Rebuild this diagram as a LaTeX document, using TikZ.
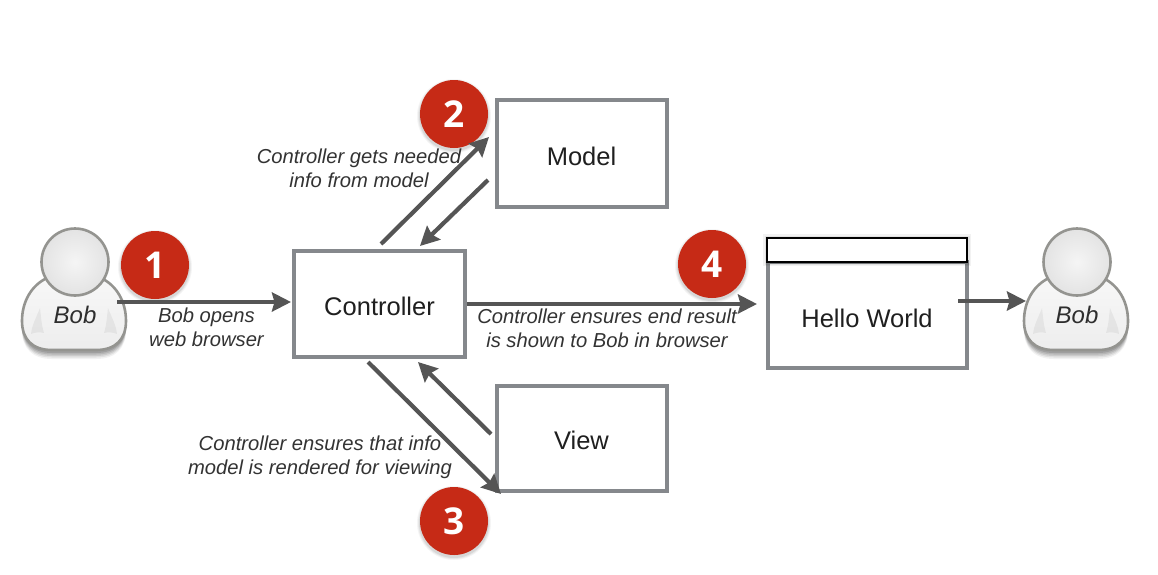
\documentclass[tikz,border=0pt]{standalone}
\usepackage{fontspec}
\setmainfont{Liberation Sans}
\newfontfamily\badgefont{Open Sans}
\usetikzlibrary{arrows.meta,calc}
\definecolor{boxgray}{HTML}{85888C}
\definecolor{arrowgray}{HTML}{555555}
\definecolor{badgered}{HTML}{C62A16}
\definecolor{personline}{HTML}{949490}
\newcommand{\bodyshape}{(-27,-37) .. controls (-42,-30) and (-52,-14) .. (-52,6)
      .. controls (-52,24) and (-42,35) .. (-22,35) -- (22,35)
      .. controls (42,35) and (52,24) .. (52,6)
      .. controls (52,-14) and (42,-30) .. (27,-37) -- cycle}
\tikzset{
  box/.style={draw=boxgray,line width=4pt,fill=white,rectangle,inner sep=0pt},
  boxtext/.style={font=\fontsize{25.5}{30}\selectfont,text=black!88,inner sep=0pt},
  flow/.style={draw=arrowgray,line width=4.2pt,-{Stealth[length=19pt,width=19pt,inset=2.5pt]}},
  caption/.style={font=\fontsize{20.2}{24}\selectfont\itshape,align=center,text=black!80,inner sep=0pt},
  badge/.style={circle,fill=badgered,text=white,minimum size=68pt,inner sep=0pt,font=\badgefont\bfseries\fontsize{37}{40}\selectfont},
  who/.style={font=\fontsize{24}{28}\selectfont\itshape,inner sep=0pt,text=black!82},
  person/.pic={
    % soft shadow
    \foreach \g/\o in {9/.05,7.5/.07,6/.09,4.5/.10,3/.12}{
      \fill[black,opacity=\o,yshift=-\g pt] \bodyshape;
    }
    \path[draw=personline,line width=2.6pt,top color=white!94!gray,bottom color=black!7,middle color=black!5] \bodyshape;
    \fill[black,opacity=.05] (-34,-7) .. controls (-38,3) and (-42,10) .. (-43,19) .. controls (-38,17) and (-34,17) .. (-30,18) .. controls (-33,8) and (-33,0) .. (-34,-7) -- cycle;
    \fill[black,opacity=.05] (34,-7) .. controls (38,3) and (42,10) .. (43,19) .. controls (38,17) and (34,17) .. (30,18) .. controls (33,8) and (33,0) .. (34,-7) -- cycle;
    \shade[inner color=black!4,outer color=black!11] (1,-53) circle (34);
    \draw[personline,line width=2.6pt] (1,-53) circle (33.5);
  }
}
\begin{document}
\begin{tikzpicture}[x=1pt,y=-1pt]
\useasboundingbox (0,0) rectangle (1158,574);
\fill[white] (0,0) rectangle (1158,574);

% people
\pic at (74,315) {person};
\pic at (1076,315) {person};
\node[who] (bobA) at (75,315) {Bob};
\node[who] (bobB) at (1077,315) {Bob};

% badge shadows and badges
\foreach \cx/\cy in {155/265,454/114,454/521,712/264}{
  \foreach \r/\o in {37/.04,36/.05,35/.07}{\fill[black,opacity=\o] (\cx,\cy+2) circle (\r);}
}
\node[badge] (b1) at (155,265) {1};
\node[badge] (b2) at (454,114) {2};
\node[badge] (b3) at (454,521) {3};
\node[badge] (b4) at (712,264) {4};

% boxes
\node[box,minimum width=171pt,minimum height=106pt] (controller) at (379.5,304) {};
\node[boxtext] (controllerlabel) at (379.5,306) {Controller};
\node[box,minimum width=170pt,minimum height=107pt] (model) at (581.5,153.5) {};
\node[boxtext] (modellabel) at (581.5,156) {Model};
\node[box,minimum width=170pt,minimum height=105pt] (view) at (581.5,438.5) {};
\node[boxtext] (viewlabel) at (581.5,440) {View};
\node[box,minimum width=199pt,minimum height=106pt] (hello) at (867,315) {};
\node[boxtext] (hellolabel) at (867,318) {Hello World};
\foreach \o/\g in {.05/4,.06/2.5,.08/1}{\fill[black,opacity=\o] (767-\g,238-\g) rectangle (967+\g,262+\g);}
\node[draw=black,line width=2pt,fill=white,minimum width=200pt,minimum height=24pt,inner sep=0pt] (titlebar) at (867,250) {};

% connector end points
\coordinate (bobAout) at (117,302);
\coordinate (ctrlin) at (291,302);
\coordinate (ctrlup) at (381,244);
\coordinate (modelin) at (489,137);
\coordinate (modelout) at (488,180);
\coordinate (ctrlupin) at (420,246);
\coordinate (viewout) at (491,434);
\coordinate (ctrldownin) at (418,362);
\coordinate (ctrldown) at (368,362);
\coordinate (viewin) at (501,494);
\coordinate (ctrlout) at (467,304);
\coordinate (helloin) at (757,304);
\coordinate (helloout) at (958,301);
\coordinate (bobBin) at (1026,301);

% connectors
\draw[flow] (bobAout) -- (ctrlin);
\draw[flow] (ctrlup) -- (modelin);
\draw[flow] (modelout) -- (ctrlupin);
\draw[flow] (viewout) -- (ctrldownin);
\draw[flow] (ctrldown) -- (viewin);
\draw[flow] (ctrlout) -- (helloin);
\draw[flow] (helloout) -- (bobBin);

% captions
\node[caption] (c1) at (206.5,327) {Bob opens\\web browser};
\node[caption] (c2) at (359,168) {Controller gets needed\\info from model};
\node[caption] (c3) at (607,328) {Controller ensures end result\\is shown to Bob in browser};
\node[caption] (c4) at (320,457.5) {Controller ensures that info\\model is rendered for viewing};
\end{tikzpicture}
\end{document}
